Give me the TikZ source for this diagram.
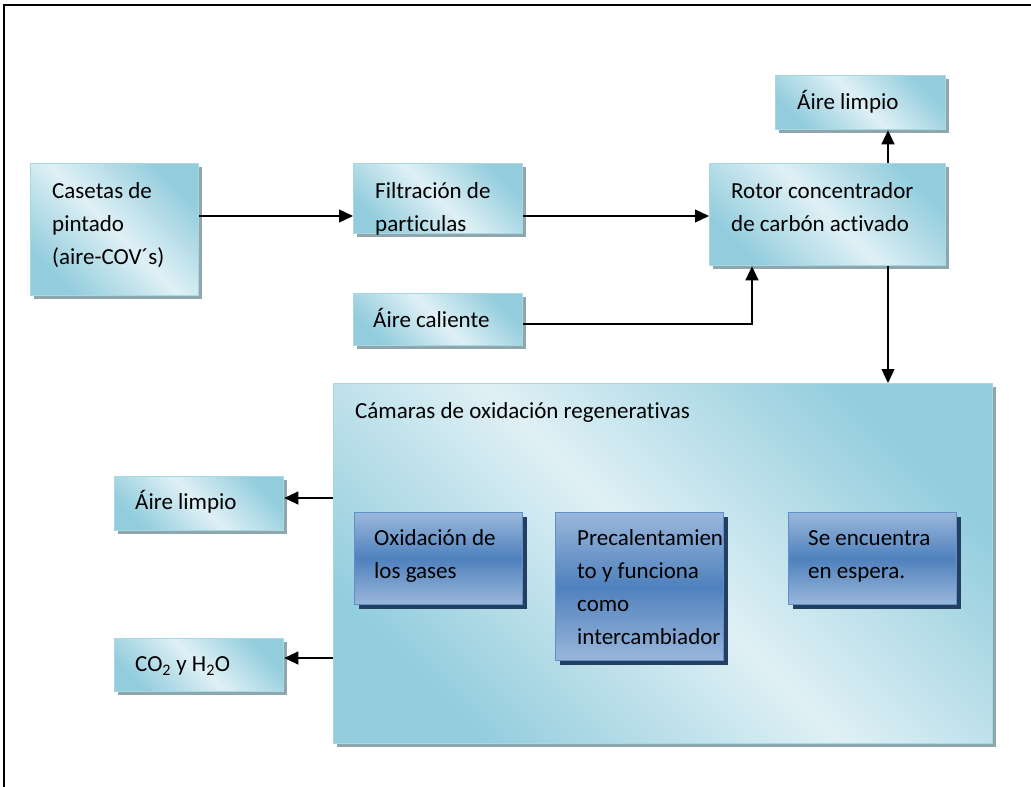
\documentclass[tikz,border=0pt]{standalone}
\usepackage{fontspec}
\setmainfont{Carlito}[Ligatures=CommonOff]
\usetikzlibrary{arrows.meta,calc}

\definecolor{tealdark}{HTML}{93CDDD}
\definecolor{teallight}{HTML}{DFF0F5}
\definecolor{tealedge}{HTML}{A9D8E5}
\definecolor{tealshadow}{HTML}{8FA7AC}
\definecolor{bluelight}{HTML}{9AB7DB}
\definecolor{bluedark}{HTML}{4F81BD}
\definecolor{blueedge}{HTML}{5F90CB}
\definecolor{blueshadow}{HTML}{243F60}

\tikzset{
  x=1pt, y=-1pt,
  lbox/.style={rectangle, inner sep=0pt, anchor=north west,
    draw=tealedge, line width=1.3pt,
    left color=tealdark, right color=tealdark, middle color=teallight,
    shading angle=135,
    preaction={fill=tealshadow, transform canvas={xshift=3pt, yshift=-3pt}}},
  bbox/.style={rectangle, inner sep=0pt, anchor=north west,
    draw=blueedge, line width=1.3pt,
    top color=bluelight, bottom color=bluelight, middle color=bluedark,
    preaction={fill=blueshadow, transform canvas={xshift=4pt, yshift=-4pt}}},
  txt/.style={anchor=north west, inner sep=0pt, align=left,
    font=\fontsize{23}{33}\selectfont},
  arr/.style={-{Triangle[length=14pt, width=13pt]}, line width=1.2pt},
}

\begin{document}
\begin{tikzpicture}
\useasboundingbox (0,0) rectangle (1031,787);

% open frame: top and left edges only
\draw[line width=2pt] (4,787) -- (4,5) -- (1031,5);

% upper row
\node[lbox, minimum width=168pt, minimum height=132pt] (cas) at (30,163) {};
\node[txt] at ($(cas.north west)+(22,12)$) {\strut Casetas de\\pintado\\(aire-COV´s)};

\node[lbox, minimum width=169pt, minimum height=70pt] (fil) at (353,163) {};
\node[txt] at ($(fil.north west)+(22,12)$) {\strut Filtración de\\particulas};

\node[lbox, minimum width=236pt, minimum height=102pt] (rot) at (709,163) {};
\node[txt] at ($(rot.north west)+(22,12)$) {\strut Rotor concentrador\\de carbón activado};

\node[lbox, minimum width=170pt, minimum height=54pt] (limA) at (775,75) {};
\node[txt] at ($(limA.north west)+(22,11)$) {\strut Áire limpio};

\node[lbox, minimum width=169pt, minimum height=52pt] (cal) at (353,293) {};
\node[txt] at ($(cal.north west)+(20,11)$) {\strut Áire caliente};

% regenerative oxidation chambers
\node[lbox, minimum width=659pt, minimum height=360pt] (cam) at (333,383) {};
\node[txt] at ($(cam.north west)+(22,12)$) {\strut Cámaras de oxidación regenerativas};

\node[bbox, minimum width=168pt, minimum height=92pt] (oxi) at (354,512) {};
\node[txt] at ($(oxi.north west)+(20,10)$) {\strut Oxidación de\\los gases};

\node[bbox, minimum width=168pt, minimum height=148pt] (pre) at (555,512) {};
\node[txt] at ($(pre.north west)+(22,10)$) {\strut Precalentamien\\to y funciona\\como\\intercambiador};

\node[bbox, minimum width=168pt, minimum height=92pt] (esp) at (788,512) {};
\node[txt] at ($(esp.north west)+(20,10)$) {\strut Se encuentra\\en espera.};

% outputs on the left
\node[lbox, minimum width=169pt, minimum height=54pt] (limB) at (114,476) {};
\node[txt] at ($(limB.north west)+(21,10)$) {\strut Áire limpio};

\node[lbox, minimum width=169pt, minimum height=53pt] (gas) at (114,638) {};
\node[txt] at ($(gas.north west)+(21,10)$) {\strut CO\textsubscript{2} y H\textsubscript{2}O};

% connector guides
\coordinate (rowA) at (0,216);
\coordinate (rowC) at (0,324);
\coordinate (colC) at (752,0);
\coordinate (colR) at (888,0);
\coordinate (rowL1) at (0,498);
\coordinate (rowL2) at (0,658);

% connectors
\draw[arr] (cas.east |- rowA) -- (fil.west |- rowA);
\draw[arr] (fil.east |- rowA) -- (rot.west |- rowA);
\draw[arr] (rot.north -| colR) -- (limA.south -| colR);
\draw[arr] (cal.east |- rowC) -- (colC |- rowC) -- (rot.south -| colC);
\draw[arr] (rot.south -| colR) -- (cam.north -| colR);
\draw[arr] (cam.west |- rowL1) -- (limB.east |- rowL1);
\draw[arr] (cam.west |- rowL2) -- (gas.east |- rowL2);
\end{tikzpicture}
\end{document}
